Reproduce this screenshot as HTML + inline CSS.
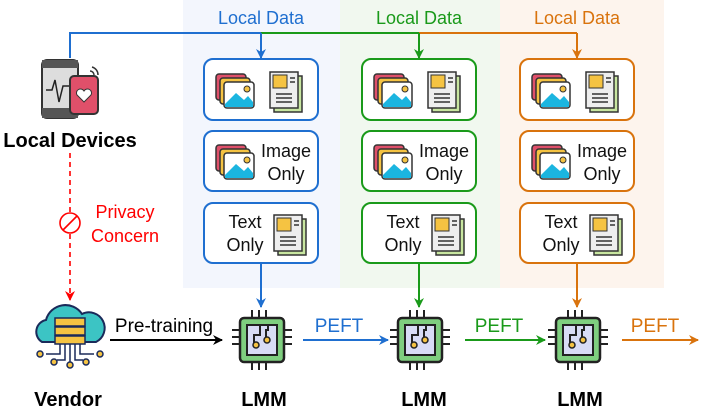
<!DOCTYPE html>
<html><head><meta charset="utf-8"><style>body{margin:0;background:#fff}svg{display:block;font-family:"Liberation Sans",sans-serif}</style></head><body>
<svg width="706" height="416" viewBox="0 0 706 416" xmlns="http://www.w3.org/2000/svg">
<defs>
<marker id="ab" markerWidth="10" markerHeight="10" refX="9" refY="5" orient="auto" markerUnits="userSpaceOnUse"><path d="M0,0 L10,5 L0,10 L3,5z" fill="#1f6fd0"/></marker>
<marker id="ag" markerWidth="10" markerHeight="10" refX="9" refY="5" orient="auto" markerUnits="userSpaceOnUse"><path d="M0,0 L10,5 L0,10 L3,5z" fill="#1a9a1a"/></marker>
<marker id="ao" markerWidth="10" markerHeight="10" refX="9" refY="5" orient="auto" markerUnits="userSpaceOnUse"><path d="M0,0 L10,5 L0,10 L3,5z" fill="#d9730d"/></marker>
<marker id="ak" markerWidth="10" markerHeight="10" refX="9" refY="5" orient="auto" markerUnits="userSpaceOnUse"><path d="M0,0 L10,5 L0,10 L3,5z" fill="#000"/></marker>
<marker id="ar" markerWidth="10" markerHeight="10" refX="9" refY="5" orient="auto" markerUnits="userSpaceOnUse"><path d="M0,0 L10,5 L0,10 L3,5z" fill="#f00"/></marker>
<g id="img"><rect x="0" y="0" width="30" height="26" rx="3" fill="#e0506a" stroke="#333" stroke-width="1.5"/><rect x="4" y="4" width="30" height="26" rx="3" fill="#f5c342" stroke="#333" stroke-width="1.5"/><rect x="8" y="8" width="30" height="26" rx="3" fill="#fff" stroke="#333" stroke-width="1.5"/><path d="M9,30 L20,19 L28,26 L32,22 L37,28 L37,33 L9,33z" fill="#1bb5e0"/><circle cx="31" cy="15" r="3" fill="#f5c342" stroke="#333"/></g>
<g id="doc"><rect x="4" y="4" width="28" height="36" fill="#c8e6a0" stroke="#333" stroke-width="1.5"/><rect x="0" y="0" width="28" height="36" fill="#eee" stroke="#333" stroke-width="1.5"/><rect x="3" y="3" width="14" height="13" fill="#f5c342" stroke="#333"/><path d="M6,22h16M6,26h16M6,30h16M20,6h5M20,10h5" stroke="#333" stroke-width="1.5"/></g>
<g id="chip"><path d="M-10,-30v8M-3,-30v8M4,-30v8M-10,22v8M-3,22v8M4,22v8M-30,-10h8M-30,-3h8M-30,4h8M22,-10h8M22,-3h8M22,4h8" stroke="#222" stroke-width="2"/><rect x="-22" y="-22" width="44" height="44" rx="4" fill="#7fcf7f" stroke="#222" stroke-width="2.5"/><rect x="-15" y="-15" width="30" height="30" fill="#d8dcf5" stroke="#222" stroke-width="2"/><path d="M-2,-15v10h-6v10M6,-15v5h-2v10" stroke="#222" stroke-width="2" fill="none"/><circle cx="-6" cy="5" r="3" fill="#f5c342" stroke="#222" stroke-width="1.5"/><circle cx="5" cy="0" r="3" fill="#f5c342" stroke="#222" stroke-width="1.5"/></g>
</defs>
<rect x="183" y="0" width="157" height="288" fill="#f3f6fd"/>
<rect x="340" y="0" width="160" height="288" fill="#f1f8ef"/>
<rect x="500" y="0" width="164" height="288" fill="#fdf4ed"/>
<g font-size="18" text-anchor="middle">
<text x="261" y="24" fill="#1f6fd0">Local Data</text>
<text x="419" y="24" fill="#1a9a1a">Local Data</text>
<text x="577" y="24" fill="#d9730d">Local Data</text>
</g>
<path d="M70,58V33H261" stroke="#1f6fd0" stroke-width="2" fill="none"/>
<path d="M261,33H419" stroke="#1a9a1a" stroke-width="2"/>
<path d="M419,33H577" stroke="#d9730d" stroke-width="2"/>
<path d="M261,33V58" stroke="#1f6fd0" stroke-width="2" marker-end="url(#ab)"/>
<path d="M419,33V58" stroke="#1a9a1a" stroke-width="2" marker-end="url(#ag)"/>
<path d="M577,33V58" stroke="#d9730d" stroke-width="2" marker-end="url(#ao)"/>
<g>
<rect x="204" y="59" width="114" height="61" rx="9" fill="#fff" stroke="#1f6fd0" stroke-width="2"/>
<rect x="204" y="131" width="114" height="60" rx="9" fill="#fff" stroke="#1f6fd0" stroke-width="2"/>
<rect x="204" y="203" width="114" height="60" rx="9" fill="#fff" stroke="#1f6fd0" stroke-width="2"/>
<path d="M261,263V307" stroke="#1f6fd0" stroke-width="2" marker-end="url(#ab)"/>
<rect x="362" y="59" width="114" height="61" rx="9" fill="#fff" stroke="#1a9a1a" stroke-width="2"/>
<rect x="362" y="131" width="114" height="60" rx="9" fill="#fff" stroke="#1a9a1a" stroke-width="2"/>
<rect x="362" y="203" width="114" height="60" rx="9" fill="#fff" stroke="#1a9a1a" stroke-width="2"/>
<path d="M419,263V307" stroke="#1a9a1a" stroke-width="2" marker-end="url(#ag)"/>
<rect x="520" y="59" width="114" height="61" rx="9" fill="#fff" stroke="#d9730d" stroke-width="2"/>
<rect x="520" y="131" width="114" height="60" rx="9" fill="#fff" stroke="#d9730d" stroke-width="2"/>
<rect x="520" y="203" width="114" height="60" rx="9" fill="#fff" stroke="#d9730d" stroke-width="2"/>
<path d="M577,263V307" stroke="#d9730d" stroke-width="2" marker-end="url(#ao)"/>
</g>
<g font-size="18" fill="#111" text-anchor="middle">
<use href="#img" x="216" y="74"/><use href="#doc" x="270" y="72"/>
<use href="#img" x="216" y="145"/><text x="286" y="157">Image</text><text x="286" y="180">Only</text>
<text x="245" y="228">Text</text><text x="245" y="251">Only</text><use href="#doc" x="274" y="215"/>
<use href="#img" x="374" y="74"/><use href="#doc" x="428" y="72"/>
<use href="#img" x="374" y="145"/><text x="444" y="157">Image</text><text x="444" y="180">Only</text>
<text x="403" y="228">Text</text><text x="403" y="251">Only</text><use href="#doc" x="432" y="215"/>
<use href="#img" x="532" y="74"/><use href="#doc" x="586" y="72"/>
<use href="#img" x="532" y="145"/><text x="602" y="157">Image</text><text x="602" y="180">Only</text>
<text x="561" y="228">Text</text><text x="561" y="251">Only</text><use href="#doc" x="590" y="215"/>
</g>
<rect x="42" y="60" width="36" height="58" rx="5" fill="#ddd" stroke="#333" stroke-width="2"/>
<rect x="42" y="60" width="36" height="8" fill="#555"/><rect x="42" y="108" width="36" height="10" fill="#555"/>
<path d="M46,90h6l3,-10l4,22l4,-16h6" stroke="#222" stroke-width="1.5" fill="none"/>
<rect x="70" y="76" width="28" height="38" rx="4" fill="#e0506a" stroke="#333" stroke-width="2"/>
<path d="M84,102l-7,-7a4,4 0 0 1 7,-4a4,4 0 0 1 7,4z" fill="#fff" stroke="#333"/>
<path d="M92,67a8,8 0 0 1 6,8M90,71a4,4 0 0 1 4,4" stroke="#333" stroke-width="1.5" fill="none"/>
<text x="70" y="147" font-size="20" font-weight="bold" text-anchor="middle" fill="#000">Local Devices</text>
<path d="M70,153V300" stroke="#f00" stroke-width="1.6" stroke-dasharray="5,4" marker-end="url(#ar)"/>
<circle cx="70" cy="223" r="10" fill="#fff" stroke="#f00" stroke-width="1.6"/><path d="M63,230L77,216" stroke="#f00" stroke-width="1.6"/>
<text x="125" y="218" font-size="18" fill="#f00" text-anchor="middle">Privacy</text>
<text x="125" y="242" font-size="18" fill="#f00" text-anchor="middle">Concern</text>
<path d="M42,342a12,12 0 0 1 4,-22a20,20 0 0 1 36,-6a14,14 0 0 1 14,28z" fill="#3cc4c4" stroke="#1a2a5a" stroke-width="2"/>
<rect x="55" y="318" width="30" height="8" fill="#f5c342" stroke="#1a2a5a" stroke-width="1.5"/>
<rect x="55" y="327" width="30" height="8" fill="#f5c342" stroke="#1a2a5a" stroke-width="1.5"/>
<rect x="55" y="336" width="30" height="8" fill="#f5c342" stroke="#1a2a5a" stroke-width="1.5"/>
<path d="M60,344v10h-14M65,344v16h-8M70,344v18M75,344v16h8M80,344v10h14" stroke="#1a2a5a" stroke-width="1.5" fill="none"/>
<g fill="#f5c342" stroke="#1a2a5a" stroke-width="1.5"><circle cx="40" cy="354" r="3"/><circle cx="54" cy="362" r="3"/><circle cx="70" cy="365" r="3"/><circle cx="86" cy="362" r="3"/><circle cx="100" cy="354" r="3"/></g>
<text x="68" y="406" font-size="20" font-weight="bold" text-anchor="middle">Vendor</text>
<use href="#chip" x="262" y="340"/><use href="#chip" x="420" y="340"/><use href="#chip" x="578" y="340"/>
<g font-size="20" font-weight="bold" text-anchor="middle"><text x="264" y="406">LMM</text><text x="424" y="406">LMM</text><text x="580" y="406">LMM</text></g>
<path d="M110,340H222" stroke="#000" stroke-width="2" marker-end="url(#ak)"/>
<text x="164" y="332" font-size="19" text-anchor="middle">Pre-training</text>
<path d="M303,340H388" stroke="#1f6fd0" stroke-width="2" marker-end="url(#ab)"/>
<text x="339" y="332" font-size="19" fill="#1f6fd0" text-anchor="middle">PEFT</text>
<path d="M465,340H545" stroke="#1a9a1a" stroke-width="2" marker-end="url(#ag)"/>
<text x="499" y="332" font-size="19" fill="#1a9a1a" text-anchor="middle">PEFT</text>
<path d="M622,340H698" stroke="#d9730d" stroke-width="2" marker-end="url(#ao)"/>
<text x="655" y="332" font-size="19" fill="#d9730d" text-anchor="middle">PEFT</text>
</svg>
</body></html>
